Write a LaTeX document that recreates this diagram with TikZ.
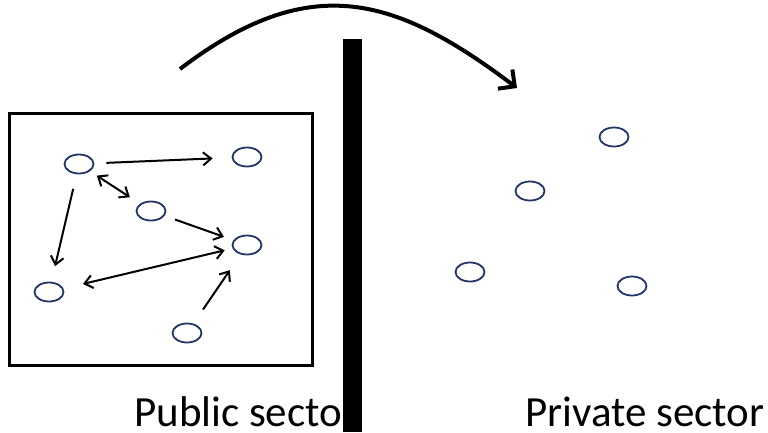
\documentclass[tikz,border=0pt]{standalone}
\usepackage{fontspec}
\setmainfont{Carlito}
\usepackage{tikz}
\usetikzlibrary{arrows.meta}
\usetikzlibrary{shapes.geometric}
\definecolor{dotblue}{RGB}{35,54,103}

\begin{document}
\begin{tikzpicture}[x=1pt,y=-1pt,
    firm/.style={ellipse,draw=dotblue,line width=1.8pt,minimum width=29pt,minimum height=19pt,inner sep=0pt},
    link/.style={line width=2pt,>={Straight Barb[length=8pt,width=13pt]}},
    label/.style={anchor=base west,inner sep=0pt,font=\fontsize{43}{50}\selectfont}]
  \useasboundingbox (0,0) rectangle (768,432);
  \draw[line width=3pt] (9,113) rectangle (312,365);
  % firms inside the box
  \node[firm] (a) at (79,164) {};
  \node[firm] (b) at (247,157) {};
  \node[firm] (c) at (151,211) {};
  \node[firm] (d) at (247,245) {};
  \node[firm] (e) at (49,292) {};
  \node[firm] (f) at (187,333) {};
  % firms outside
  \node[firm] (g) at (614,137) {};
  \node[firm] (h) at (530,191) {};
  \node[firm] (i) at (470,272) {};
  \node[firm] (j) at (632,286) {};
    \foreach \s/\t/\tip/\p/\q in {a/b/->/12/19, a/c/<->/8/12, c/d/->/11/10,
        a/e/->/15/16, e/d/<->/20/8, f/d/->/17/19}{
      \draw[link,\tip,shorten <=\p pt,shorten >=\q pt] (\s) -- (\t);
    }
  \node[label] (pub) at (134,426) {Public sector};
  \node[label] (priv) at (525,426) {Private sector};
  \fill (343,39) rectangle (362,432);
  \coordinate (from) at (180,69);
  \coordinate (to) at (517,88);
  \draw[line width=4pt,-{Straight Barb[length=12pt,width=24pt]}] (from) .. controls (310,-30) and (395,-4) .. (to);
\end{tikzpicture}
\end{document}
